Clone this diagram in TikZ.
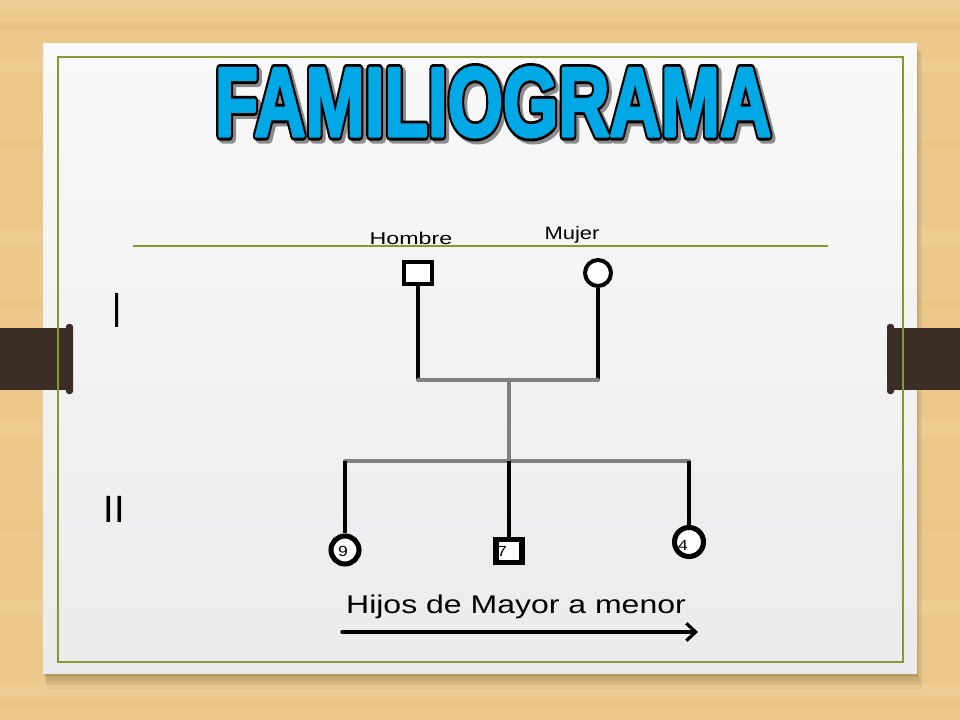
\documentclass[tikz,border=0pt]{standalone}
\usepackage{fontspec}
\usepackage{graphicx}
\setmainfont{Liberation Sans}
\newfontfamily\tfout[FakeBold=9.2]{Liberation Sans Bold}
\newfontfamily\tffill[FakeBold=3.3]{Liberation Sans Bold}
\usetikzlibrary{arrows.meta}
\definecolor{wood}{RGB}{236,200,140}
\definecolor{woodlight}{RGB}{244,214,162}
\definecolor{wooddark}{RGB}{226,186,124}
\definecolor{cardtop}{RGB}{249,249,249}
\definecolor{cardbot}{RGB}{235,235,237}
\definecolor{olive}{RGB}{134,152,48}
\definecolor{strap}{RGB}{58,46,38}
\definecolor{titleblue}{RGB}{0,168,230}
\definecolor{linegray}{RGB}{128,128,128}
\newcommand{\titletext}{\scalebox{0.725}[1]{FAMILIOGRAMA}}
\tikzset{
  malebox/.style={draw=black,fill=white,rectangle,inner sep=0pt},
  femalecirc/.style={draw=black,fill=white,circle,inner sep=0pt},
  blackline/.style={draw=black,line width=3pt},
  grayline/.style={draw=linegray,line width=3pt,line cap=round},
  numlabel/.style={inner sep=0pt,anchor=center,font=\fontsize{11pt}{12pt}\selectfont},
  txtlabel/.style={inner sep=0pt,anchor=base},
  titlelayer/.style={inner sep=0pt,anchor=base,line join=round}
}
\begin{document}
\begin{tikzpicture}[x=0.75pt,y=-0.75pt]
\useasboundingbox (0,0) rectangle (960,720);
% wood background
\fill[wood] (0,0) rectangle (960,720);
\foreach \ya/\yb/\c/\o in {0/14/woodlight/0.35, 22/30/wooddark/0.3, 60/72/woodlight/0.25, 140/150/wooddark/0.2, 230/246/woodlight/0.25, 300/310/wooddark/0.2, 420/436/woodlight/0.25, 520/530/wooddark/0.2, 600/614/woodlight/0.25, 684/696/woodlight/0.35, 700/708/wooddark/0.25}
  \fill[\c,opacity=\o] (0,\ya) rectangle (960,\yb);
% card shadow
\foreach \d/\o in {12/0.04,9/0.06,6/0.08,3/0.12}
  \fill[black!70!brown,opacity=\o] (43+\d*0.3,46+\d*0.5) rectangle (917+\d*0.4,673+\d*1.3);
% card
\shade[top color=cardtop,bottom color=cardbot] (43,44) rectangle (917,673);
% straps
\fill[strap] (0,328) rectangle (70,390);
\fill[strap,rounded corners=2pt] (66,324) rectangle (73,394);
\fill[strap] (890,328) rectangle (960,390);
\fill[strap,rounded corners=2pt] (887,324) rectangle (894,394);
% green frame and rule
\draw[olive,line width=1.5pt] (58,57) rectangle (903,662);
\draw[olive,line width=1.1pt] (133,246) -- (828,246);
% title: shadow, outline, fill
\begin{scope}[line join=round]
\node[titlelayer,text=black!45,font=\tfout\fontsize{73.5pt}{73.5pt}\selectfont] (titleshadow) at (496,139) {\titletext};
\node[titlelayer,text=black,font=\tfout\fontsize{73.5pt}{73.5pt}\selectfont] (titleoutline) at (493,136) {\titletext};
\node[titlelayer,text=titleblue,font=\tffill\fontsize{73.5pt}{73.5pt}\selectfont] (title) at (493,136) {\titletext};
\end{scope}
% labels
\node[txtlabel,font=\fontsize{12.8pt}{13pt}\selectfont] (lhombre) at (411,245) {\scalebox{1.36}[1]{Hombre}};
\node[txtlabel,font=\fontsize{13.5pt}{14pt}\selectfont] (lmujer) at (572,240) {\scalebox{1.22}[1]{Mujer}};
\node[txtlabel,font=\fontsize{24.75pt}{25pt}\selectfont] (genI) at (117.5,327) {\scalebox{1}[1.5]{I}};
\node[txtlabel,font=\fontsize{28.5pt}{29pt}\selectfont] (genII) at (114.5,522) {II};
\node[txtlabel,font=\fontsize{19.2pt}{20pt}\selectfont] (lhijos) at (516,613) {\scalebox{1.25}[1]{Hijos de Mayor a menor}};
% parents
\node[malebox,line width=3pt,minimum width=21pt,minimum height=16.5pt] (hombre) at (418,273) {};
\node[femalecirc,line width=3pt,minimum size=19.5pt] (mujer) at (598,273) {};
% junctions
\coordinate (j1L) at (418,380);
\coordinate (j1R) at (598,380);
\coordinate (j1M) at (509,380);
\coordinate (j2L) at (345,461);
\coordinate (j2M) at (509,461);
\coordinate (j2R) at (689,461);
% children
\node[femalecirc,line width=3.8pt,minimum size=21pt] (c9) at (345,550) {};
\node[malebox,line width=3.8pt,minimum width=19.5pt,minimum height=17.25pt] (s7) at (509,551) {};
\node[femalecirc,line width=3.8pt,minimum size=21.75pt] (c4) at (689,542) {};
\node[numlabel] (n9) at (343,551) {\scalebox{1.2}[1]{9}};
\node[numlabel] (n7) at (502,551) {\scalebox{1.2}[1]{7}};
\node[numlabel] (n4) at (683,545) {\scalebox{1.2}[1]{4}};
% connectors
\draw[blackline] (hombre.south) -- (j1L);
\draw[blackline] (mujer.south) -- (j1R);
\draw[grayline] (j1L) -- (j1R);
\draw[grayline] (j1M) -- (j2M);
\draw[grayline] (j2L) -- (j2R);
\draw[blackline] (j2L) -- (c9.north);
\draw[blackline] (j2M) -- (s7.north);
\draw[blackline] (j2R) -- (c4.north);
% arrow
\coordinate (a1) at (342,632);
\coordinate (a2) at (698,632);
\draw[line width=2.6pt,line cap=round,-{Straight Barb[length=7pt,width=13pt,line width=2.4pt]}] (a1) -- (a2);
\end{tikzpicture}
\end{document}
